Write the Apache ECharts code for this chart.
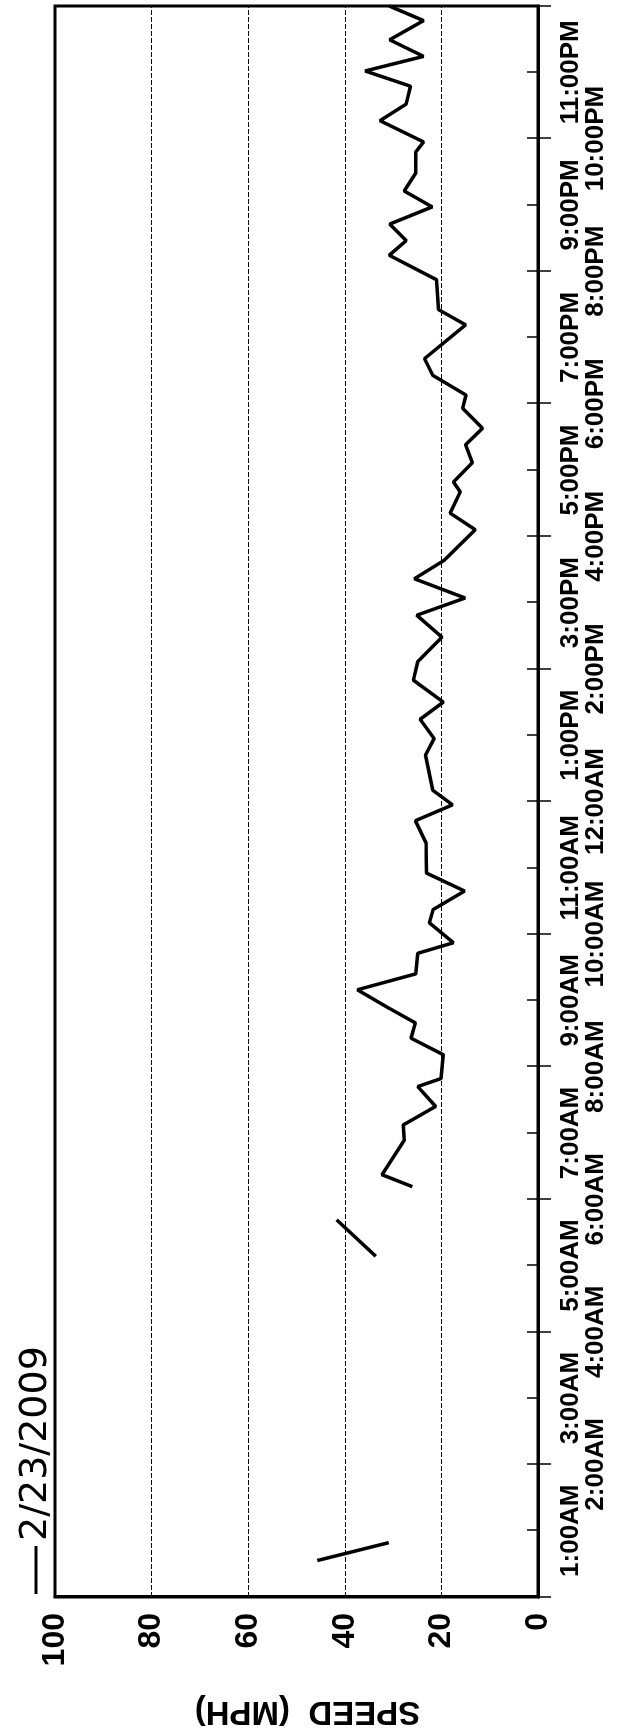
<!DOCTYPE html>
<html>
<head>
<meta charset="utf-8">
<script src="https://cdn.jsdelivr.net/npm/echarts@6/dist/echarts.min.js"></script>
<style>
html,body{margin:0;padding:0;background:#fff;overflow:hidden;width:621px;height:1733px;}
#wrap{position:absolute;left:0;top:0;width:1733px;height:621px;transform-origin:0 0;transform:translate(0,1733px) rotate(-90deg);}
#chart{width:1733px;height:621px;}
</style>
</head>
<body>
<div id="wrap"><div id="chart"></div></div>
<script>
// Hour labels (0..24 on the time axis)
const hourLabels = ['', '1:00AM','2:00AM','3:00AM','4:00AM','5:00AM','6:00AM','7:00AM','8:00AM','9:00AM','10:00AM','11:00AM',
  '12:00AM','1:00PM','2:00PM','3:00PM','4:00PM','5:00PM','6:00PM','7:00PM','8:00PM','9:00PM','10:00PM','11:00PM',''];
const speedTicks = [0, 20, 40, 60, 80, 100];
const seriesName = '2/23/2009';
// Time of day in hours; null marks a gap in the record
const timeHours = [0.55, 0.82, null, 5.14, 5.69, null,
  6.19, 6.37, 6.89, 7.12, 7.40, 7.70, 7.82, 8.18, 8.43, 8.66, 8.88, 9.16, 9.40, 9.71, 9.87,
  10.17, 10.37, 10.65, 10.92, 11.38, 11.71, 11.95, 12.17, 12.70, 12.95, 13.24, 13.50, 13.83,
  14.11, 14.48, 14.81, 15.07, 15.36, 15.64, 16.10, 16.35, 16.67, 16.82, 17.11, 17.38, 17.63,
  17.93, 18.13, 18.43, 18.68, 19.19, 19.42, 19.87, 20.24, 20.46, 20.71, 20.97, 21.21, 21.48,
  21.80, 21.95, 22.27, 22.52, 22.79, 23.02, 23.24, 23.49, 23.78, 24.00];
// Speed (MPH)
const speedMph = [45.7, 30.9, null, 33.6, 41.7, null,
  26.0, 32.3, 27.7, 27.9, 21.2, 24.9, 20.1, 19.6, 26.3, 25.4, 30.8, 37.4, 25.3, 24.9, 17.5,
  22.5, 21.7, 15.2, 23.1, 23.2, 25.4, 17.7, 21.8, 23.3, 21.5, 24.4, 19.6, 25.8,
  24.9, 19.9, 25.1, 15.1, 25.6, 19.4, 13.0, 18.2, 16.1, 17.5, 13.6, 15.0, 11.5,
  15.6, 14.9, 21.8, 23.5, 15.0, 20.6, 21.0, 30.8, 27.3, 30.7, 21.9, 27.7, 25.3,
  25.3, 23.7, 32.7, 27.3, 26.4, 35.8, 23.7, 30.7, 23.7, 30.8];

const data = timeHours.map((t, i) => (t === null || speedMph[i] === null) ? ['-', '-'] : [t, speedMph[i]]);

const chart = echarts.init(document.getElementById('chart'), null, {renderer: 'canvas'});
const FONT = "'Liberation Sans', Arial, sans-serif";
chart.setOption({
  animation: false,
  backgroundColor: '#fff',
  textStyle: {fontFamily: FONT},
  grid: {left: 136, right: 6, top: 55, bottom: 83, show: true, borderColor: '#000', borderWidth: 3,
    containLabel: false, outerBoundsMode: 'none'},
  legend: {
    data: [seriesName], left: 134, top: 12, icon: 'rect', itemWidth: 48, itemHeight: 3, itemGap: 7,
    textStyle: {fontFamily: "'DejaVu Sans', sans-serif", fontSize: 38, color: '#000'}
  },
  xAxis: [{
    type: 'value', min: 0, max: 24, interval: 1,
    axisLine: {show: true, lineStyle: {color: '#000', width: 3}},
    axisTick: {show: true, inside: true, length: 11, lineStyle: {color: '#000', width: 1.5}},
    splitLine: {show: false},
    axisLabel: {
      show: true, margin: 20, color: '#000', fontFamily: FONT, fontWeight: 'bold', fontSize: 26, lineHeight: 25,
      formatter: v => { const h = Math.round(v); const s = hourLabels[h] || ''; if (!s) return ''; return h % 2 ? s : '\n' + s; }
    }
  }, {
    type: 'value', min: 0, max: 24, interval: 2, position: 'bottom',
    axisLine: {show: false}, axisLabel: {show: false}, splitLine: {show: false},
    axisTick: {show: true, inside: false, length: 13, lineStyle: {color: '#000', width: 1.5}}
  }],
  yAxis: {
    type: 'value', min: 0, max: 100, interval: 20,
    name: 'SPEED  (MPH)', nameLocation: 'middle', nameRotate: 90, nameGap: 98,
    nameTextStyle: {fontFamily: FONT, fontWeight: 'bold', fontSize: 33, color: '#000', padding: [0, 22, 0, 0]},
    axisLine: {show: true, lineStyle: {color: '#000', width: 3}},
    axisTick: {show: false},
    axisLabel: {margin: 16, color: '#000', fontFamily: FONT, fontWeight: 'bold', fontSize: 32,
      formatter: v => speedTicks.includes(v) ? String(v) : ''},
    splitLine: {show: true, lineStyle: {color: '#000', width: 1, type: [5, 2]}}
  },
  series: [{
    name: seriesName, type: 'line', xAxisIndex: 0, data: data, symbol: 'none', connectNulls: false,
    lineStyle: {color: '#000', width: 3.5}, itemStyle: {color: '#000'}
  }]
});
</script>
</body>
</html>
